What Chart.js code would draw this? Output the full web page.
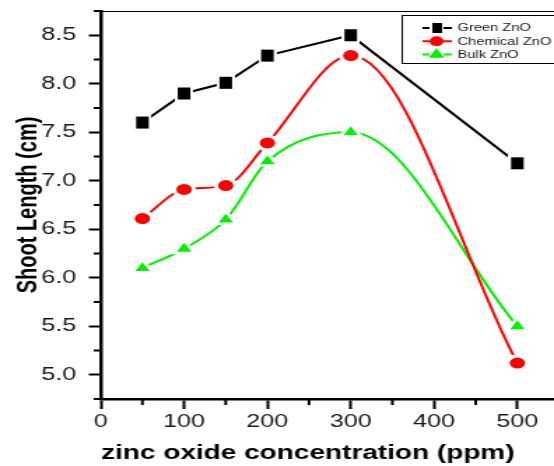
<!DOCTYPE html>
<html>
<head>
<meta charset="utf-8">
<script src="https://cdn.jsdelivr.net/npm/chart.js@4/dist/chart.umd.min.js"></script>
<style>
  html, body { margin: 0; padding: 0; background: #fff; }
  #shoot { display: block; }
</style>
</head>
<body>
<!-- drawn narrow and stretched sideways, which gives the wide Origin-style lettering -->
<canvas id="shoot" width="396" height="466" style="width:554px;height:466px"></canvas>
<script>
const concentrations = [50, 100, 150, 200, 300, 500];
const greenZnO = [7.6, 7.9, 8.01, 8.29, 8.5, 7.18];
const chemicalZnO = [6.61, 6.91, 6.95, 7.39, 8.29, 5.12];
const bulkZnO = [6.1, 6.3, 6.6, 7.2, 7.5, 5.5];

const xTicks = [0, 100, 200, 300, 400, 500];
const xMinorTicks = [50, 150, 250, 350, 450];
const yTicks = [5.0, 5.5, 6.0, 6.5, 7.0, 7.5, 8.0, 8.5];
const yMinorTicks = [4.75, 5.25, 5.75, 6.25, 6.75, 7.25, 7.75, 8.25, 8.75];

const xTitle = 'zinc oxide concentration (ppm)';
const yTitle = 'Shoot Length (cm)';

const FONT = "'Liberation Sans', Arial, sans-serif";

// black square with a white margin so the line stops short of it
function squareMarker(w, h, margin) {
  const c = document.createElement('canvas');
  c.width = w + 2 * margin;
  c.height = h + 2 * margin;
  const g = c.getContext('2d');
  if (margin) {
    g.fillStyle = '#fff';
    g.fillRect(0, 0, c.width, c.height);
  }
  g.fillStyle = '#000';
  g.fillRect(margin, margin, w, h);
  return c;
}

const bigSquare = squareMarker(9, 12, 2);
const smallSquare = squareMarker(7, 10, 0);

function points(values) {
  return concentrations.map((x, i) => ({ x: x, y: values[i] }));
}

const series = [
  { label: 'Green ZnO', values: greenZnO, color: '#000000', style: bigSquare, legendStyle: smallSquare, radius: 7, border: 0, smooth: false },
  { label: 'Chemical ZnO', values: chemicalZnO, color: '#ff0000', style: 'circle', legendStyle: 'circle', radius: 7, border: 3, smooth: true },
  { label: 'Bulk ZnO', values: bulkZnO, color: '#00f000', style: 'triangle', legendStyle: 'triangle', radius: 8.5, border: 2.5, smooth: true }
];

const extras = {
  id: 'extras',
  afterDraw(chart) {
    const ctx = chart.ctx;
    const area = chart.chartArea;
    const xs = chart.scales.x;
    const ys = chart.scales.y;
    ctx.save();
    ctx.strokeStyle = '#000';

    // top frame
    ctx.lineWidth = 1;
    ctx.beginPath();
    ctx.moveTo(area.left, area.top + 0.5);
    ctx.lineTo(chart.width, area.top + 0.5);
    ctx.stroke();

    // minor ticks
    ctx.lineWidth = 2;
    ctx.beginPath();
    xMinorTicks.forEach(v => {
      const px = xs.getPixelForValue(v);
      ctx.moveTo(px, area.bottom);
      ctx.lineTo(px, area.bottom + 6);
    });
    yMinorTicks.forEach(v => {
      const py = ys.getPixelForValue(v);
      ctx.moveTo(area.left - 5, py);
      ctx.lineTo(area.left, py);
    });
    ctx.stroke();

    // x axis title, set a little left of the axis centre
    ctx.fillStyle = '#000';
    ctx.font = 'bold 20px ' + FONT;
    ctx.textAlign = 'center';
    ctx.textBaseline = 'middle';
    ctx.fillText(xTitle, 220, 453);

    // legend box
    const bx = 287, by = 15, bh = 48;
    ctx.strokeStyle = '#000';
    ctx.lineWidth = 1;
    ctx.strokeRect(bx + 0.5, by + 0.5, chart.width - bx + 5, bh);
    ctx.font = '10.5px ' + FONT;
    ctx.textAlign = 'left';
    series.forEach((s, i) => {
      const y = by + 13 + i * 13.2;
      ctx.strokeStyle = s.color;
      ctx.lineWidth = 2;
      ctx.beginPath();
      ctx.moveTo(302, y); ctx.lineTo(307, y);
      ctx.moveTo(317, y); ctx.lineTo(323, y);
      ctx.stroke();
      ctx.fillStyle = s.color;
      Chart.helpers.drawPoint(ctx, { pointStyle: s.legendStyle, radius: s.legendStyle === 'triangle' ? 6.5 : 5, rotation: 0, borderWidth: 0 }, 312, y);
      ctx.fillStyle = '#1a1a1a';
      ctx.fillText(s.label, 327, y + 0.5);
    });
    ctx.restore();
  }
};

new Chart(document.getElementById('shoot'), {
  type: 'line',
  data: {
    datasets: series.map(s => ({
      label: s.label,
      data: points(s.values),
      borderColor: s.color,
      borderWidth: 2,
      backgroundColor: s.color,
      pointStyle: s.style,
      pointRadius: s.radius,
      pointBackgroundColor: s.color,
      pointBorderColor: '#fff',
      pointBorderWidth: s.border,
      cubicInterpolationMode: s.smooth ? 'monotone' : 'default',
      tension: 0,
      fill: false
    }))
  },
  options: {
    responsive: false,
    devicePixelRatio: 1,
    animation: false,
    events: [],
    layout: { autoPadding: false, padding: { top: 11, right: 0, left: 0, bottom: 0 } },
    plugins: {
      legend: { display: false },
      tooltip: { enabled: false }
    },
    scales: {
      x: {
        type: 'linear',
        min: 0,
        max: 544,
        afterBuildTicks: scale => { scale.ticks = xTicks.map(v => ({ value: v })); },
        afterFit: scale => {
          scale.height = 67;
          scale.paddingLeft = 0;
          scale.paddingRight = 0;
        },
        ticks: { color: '#1a1a1a', font: { family: FONT, size: 18 }, padding: 2, maxRotation: 0 },
        grid: { drawOnChartArea: false, drawTicks: true, tickLength: 10, tickWidth: 2, tickColor: '#000' },
        border: { display: true, color: '#000', width: 2.5 }
      },
      y: {
        min: 4.75,
        max: 8.75,
        afterBuildTicks: scale => { scale.ticks = yTicks.map(v => ({ value: v })); },
        afterFit: scale => {
          scale.width = 72;
          scale.paddingTop = 0;
          scale.paddingBottom = 0;
        },
        ticks: { color: '#1a1a1a', font: { family: FONT, size: 18 }, padding: 9, callback: v => v.toFixed(1) },
        grid: { drawOnChartArea: false, drawTicks: true, tickLength: 8.5, tickWidth: 2, tickColor: '#000' },
        border: { display: true, color: '#000', width: 2.5 },
        title: {
          display: true,
          text: yTitle,
          color: '#000',
          font: { family: FONT, size: 20, weight: 'bold' },
          padding: { top: 8, bottom: 0 }
        }
      }
    }
  },
  plugins: [extras]
});
</script>
</body>
</html>
